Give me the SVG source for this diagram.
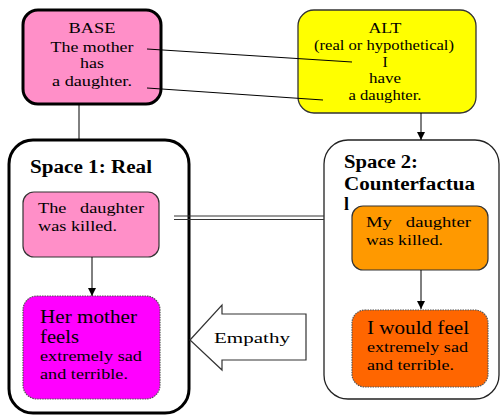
<svg xmlns="http://www.w3.org/2000/svg" width="500" height="415" viewBox="0 0 500 415" font-family="'Liberation Serif', 'DejaVu Serif', serif">
<style>
text{font-family:'Liberation Serif','DejaVu Serif',serif;fill:#000;white-space:pre}
.t{font-size:15.5px}
.c{text-anchor:middle}
.b{font-weight:bold;font-size:18px}
.big{font-size:18px}
.ln{stroke:#000;stroke-width:1;fill:none}
.thin{stroke:#333;stroke-width:1.2}
.dot{stroke:#555;stroke-width:1.2;stroke-dasharray:1.5 1}
</style>
<defs>
<marker id="ah" viewBox="0 0 10 10" refX="10" refY="5" markerWidth="8" markerHeight="8" orient="auto" markerUnits="userSpaceOnUse">
<path d="M0,0 L10,5 L0,10 z" fill="#000"/>
</marker>
</defs>
<rect width="500" height="415" fill="#fff"/>
<g id="space1">
<rect x="9" y="140" width="180" height="273" rx="24" fill="#fff" stroke="#000" stroke-width="3"/>
<text x="30" y="173" class="b" textLength="122" lengthAdjust="spacingAndGlyphs">Space 1: Real</text>
</g>
<g id="space2">
<rect x="324" y="140" width="175" height="259" rx="24" fill="#fff" stroke="#222" stroke-width="1.3"/>
<text x="344" y="168" class="b" textLength="74" lengthAdjust="spacingAndGlyphs">Space 2:</text>
<text x="344" y="190" class="b" textLength="131" lengthAdjust="spacingAndGlyphs">Counterfactua</text>
<text x="344" y="210" class="b">l</text>
</g>
<g id="base">
<rect x="23" y="10" width="138" height="94" rx="15" fill="#FF8FC8" stroke="#000" stroke-width="3"/>
<text x="92" y="33" class="t c" textLength="47" lengthAdjust="spacingAndGlyphs">BASE</text>
<text x="92" y="52" class="t c" textLength="83" lengthAdjust="spacingAndGlyphs">The mother</text>
<text x="92" y="68" class="t c" textLength="24" lengthAdjust="spacingAndGlyphs">has</text>
<text x="92" y="86" class="t c" textLength="80" lengthAdjust="spacingAndGlyphs">a daughter.</text>
</g>
<g id="alt">
<rect x="298" y="10" width="178" height="103" rx="16" fill="#FFFF00" stroke="#333" stroke-width="1.3"/>
<text x="385" y="33" class="t c" textLength="33" lengthAdjust="spacingAndGlyphs">ALT</text>
<text x="384" y="50" class="t c" textLength="140" lengthAdjust="spacingAndGlyphs">(real or hypothetical)</text>
<text x="385" y="67" class="t c">I</text>
<text x="385" y="83" class="t c" textLength="32" lengthAdjust="spacingAndGlyphs">have</text>
<text x="385" y="100" class="t c" textLength="73" lengthAdjust="spacingAndGlyphs">a daughter.</text>
</g>
<g id="killed1">
<rect x="23" y="192" width="136" height="65" rx="11" fill="#FF8FC8" class="thin"/>
<text x="38" y="213" class="t" xml:space="preserve" textLength="106" lengthAdjust="spacingAndGlyphs">The   daughter</text>
<text x="38" y="231" class="t" textLength="79" lengthAdjust="spacingAndGlyphs">was killed.</text>
</g>
<g id="feels1">
<rect x="23" y="296" width="137" height="103" rx="14" fill="#FF00FF" class="dot"/>
<text x="40" y="323" class="big" textLength="97" lengthAdjust="spacingAndGlyphs">Her mother</text>
<text x="40" y="343" class="big" textLength="39" lengthAdjust="spacingAndGlyphs">feels</text>
<text x="40" y="361" class="t" textLength="102" lengthAdjust="spacingAndGlyphs">extremely sad</text>
<text x="40" y="379" class="t" textLength="88" lengthAdjust="spacingAndGlyphs">and terrible.</text>
</g>
<g id="killed2">
<rect x="352" y="206" width="136" height="64" rx="11" fill="#FF9900" class="thin"/>
<text x="366" y="227" class="t" xml:space="preserve" textLength="105" lengthAdjust="spacingAndGlyphs">My   daughter</text>
<text x="366" y="245" class="t" textLength="77" lengthAdjust="spacingAndGlyphs">was killed.</text>
</g>
<g id="feels2">
<rect x="352" y="310" width="136" height="77" rx="13" fill="#FF6600" class="dot"/>
<text x="367" y="334" class="big" textLength="102" lengthAdjust="spacingAndGlyphs">I would feel</text>
<text x="367" y="352" class="t" textLength="101" lengthAdjust="spacingAndGlyphs">extremely sad</text>
<text x="367" y="370" class="t" textLength="87" lengthAdjust="spacingAndGlyphs">and terrible.</text>
</g>
<g id="empathy">
<polygon points="190,340 222,305 222,314 306,314 306,360 222,360 222,370" fill="#fff" stroke="#333" stroke-width="1.2"/>
<text x="214" y="343" class="t" textLength="76" lengthAdjust="spacingAndGlyphs">Empathy</text>
</g>
<g id="connectors">
<line class="ln" x1="147" y1="49" x2="352" y2="62"/>
<line class="ln" x1="147" y1="88" x2="323" y2="100"/>
<line class="ln" x1="79" y1="104" x2="79" y2="140"/>
<line class="ln" x1="421" y1="113" x2="421" y2="140" marker-end="url(#ah)"/>
<line class="ln" x1="92" y1="257" x2="92" y2="296" marker-end="url(#ah)"/>
<line class="ln" x1="421" y1="270" x2="421" y2="309" marker-end="url(#ah)"/>
<line x1="174" y1="216" x2="324" y2="216" stroke="#333" stroke-width="1"/>
<line x1="174" y1="219.5" x2="324" y2="219.5" stroke="#333" stroke-width="1"/>
</g>
</svg>
